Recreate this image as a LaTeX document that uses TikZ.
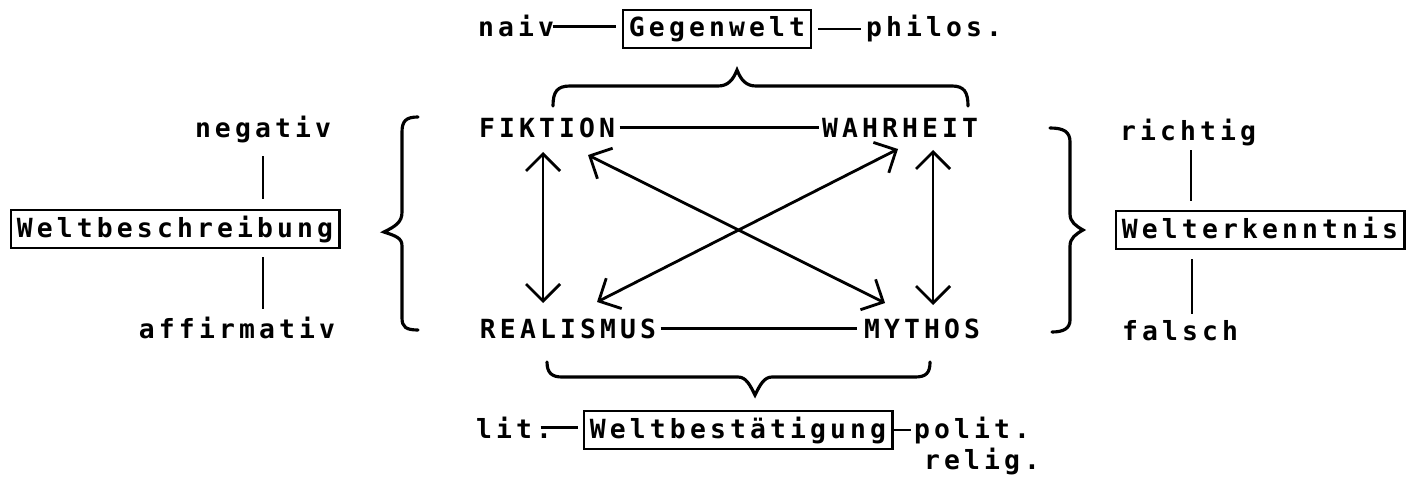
\documentclass[tikz,border=0pt]{standalone}
\usepackage{fontspec}
\newfontfamily\monofam[LetterSpace=15.7]{DejaVu Sans Mono}
\usetikzlibrary{arrows.meta}
\tikzset{
  lbl/.style={anchor=base, inner sep=0pt, font=\monofam\bfseries\fontsize{7.5pt}{9pt}\selectfont},
  boxed/.style={lbl, draw, line width=0.8pt, inner xsep=0.06cm, inner ysep=0.05cm, text height=0.22cm, text depth=0.06cm},
  conn/.style={line width=0.8pt},
  dbl/.style={line width=0.8pt, {Straight Barb[length=0.17cm,width=0.34cm]}-{Straight Barb[length=0.17cm,width=0.34cm]}},
  brace/.style={line width=0.9pt, line cap=round}
}
\begin{document}
\begin{tikzpicture}[x=0.01cm,y=-0.01cm]
\useasboundingbox (0,0) rectangle (1419,479);
% top row
\node[lbl] (naiv) at (516,37) {naiv};
\node[boxed] (geg) at (717,37) {Gegenwelt};
\node[lbl] (philos) at (934,37) {philos.};
\draw[conn] ([xshift=-0.02cm]naiv.east) -- ([xshift=-0.06cm]naiv.east -| geg.west);
\draw[conn] ([xshift=0.06cm]geg.east) -- ([xshift=-0.04cm]geg.east -| philos.west);
% square
\node[lbl] (fik) at (547,137) {FIKTION};
\node[lbl] (wahr) at (900,137) {WAHRHEIT};
\node[lbl] (real) at (568,338) {REALISMUS};
\node[lbl] (myth) at (922,338) {MYTHOS};
\draw[conn] ([xshift=0.04cm]fik.east) -- ([xshift=-0.02cm]fik.east -| wahr.west);
\draw[conn] ([xshift=0.04cm]real.east) -- ([xshift=-0.06cm]real.east -| myth.west);
\coordinate (fa) at (543,152);
\coordinate (ra) at (543,303);
\coordinate (wa) at (933,150);
\coordinate (ma) at (933,305);
\coordinate (fd) at (588,155);
\coordinate (md) at (885,303);
\coordinate (wd) at (898,149);
\coordinate (rd) at (597,302);
\draw[dbl] (fa) -- (ra);
\draw[dbl] (wa) -- (ma);
\draw[dbl] (fd) -- (md);
\draw[dbl] (wd) -- (rd);
% left group
\node[lbl] (neg) at (263,138) {negativ};
\node[boxed] (wb) at (175,237) {Weltbeschreibung};
\node[lbl] (aff) at (237,338) {affirmativ};
\draw[conn] ([yshift=-0.12cm]neg.south) -- ([yshift=0.1cm]neg.south |- wb.north);
\draw[conn] ([yshift=-0.08cm]wb.south -| neg.south) -- ([yshift=0.07cm]neg.south |- aff.north);
% right group
\node[lbl] (richt) at (1188,141) {richtig};
\node[boxed] (we) at (1260,238) {Welterkenntnis};
\node[lbl] (fal) at (1180,340) {falsch};
\draw[conn] ([yshift=-0.03cm]richt.south -| 1191,0) -- ([yshift=0.09cm]we.north -| 1191,0);
\draw[conn] ([yshift=-0.09cm]we.south -| 1192,0) -- ([yshift=0.05cm]fal.north -| 1192,0);
% bottom row
\node[lbl] (lit) at (514,438) {lit.};
\node[boxed] (wbst) at (738,438) {Weltbestätigung};
\node[lbl] (polit) at (972,438) {polit.};
\node[lbl] (relig) at (982,469) {relig.};
\draw[conn] ([xshift=-0.12cm]lit.east) -- ([xshift=-0.05cm]lit.east -| wbst.west);
\draw[conn] (wbst.east) -- ([xshift=-0.02cm]wbst.east -| polit.west);
% braces
\draw[brace] (553,106) .. controls (553,92) and (557,86) .. (570,86) -- (718,86)
  .. controls (728,86) and (733,80) .. (737,70)
  .. controls (741,80) and (746,86) .. (756,86) -- (952,86)
  .. controls (964,86) and (968,92) .. (968,106);
\draw[brace] (547,362) .. controls (547,373) and (552,377) .. (562,377) -- (738,377)
  .. controls (746,377) and (750,385) .. (755,395)
  .. controls (760,385) and (764,377) .. (772,377) -- (915,377)
  .. controls (926,377) and (930,373) .. (930,362);
\draw[brace] (418,117) .. controls (406,117) and (402,121) .. (402,132) -- (402,212)
  .. controls (402,222) and (396,226) .. (384,232)
  .. controls (396,236) and (402,238) .. (402,246) -- (402,318)
  .. controls (402,327) and (406,330) .. (418,330);
\draw[brace] (1050,128) .. controls (1064,128) and (1070,132) .. (1070,142) -- (1070,214)
  .. controls (1070,222) and (1076,226) .. (1083,230)
  .. controls (1076,234) and (1070,238) .. (1070,246) -- (1070,320)
  .. controls (1070,328) and (1064,332) .. (1052,332);
\end{tikzpicture}
\end{document}
